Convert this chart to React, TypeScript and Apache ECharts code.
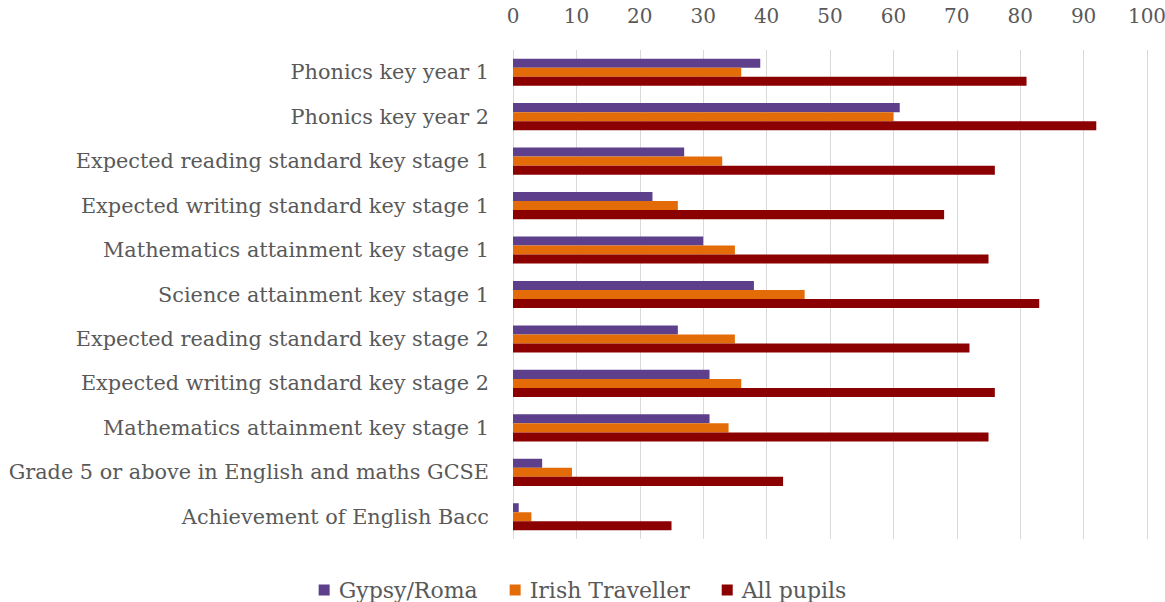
import React, { useEffect, useRef } from "react";
import * as echarts from "echarts";

const categories = [
  "Phonics key year 1",
  "Phonics key year 2",
  "Expected reading standard key stage 1",
  "Expected writing standard key stage 1",
  "Mathematics attainment key stage 1",
  "Science attainment key stage 1",
  "Expected reading standard key stage 2",
  "Expected writing standard key stage 2",
  "Mathematics attainment key stage 1",
  "Grade 5 or above in English and maths GCSE",
  "Achievement of English Bacc",
];

const gypsyRoma = [39, 61, 27, 22, 30, 38, 26, 31, 31, 4.6, 0.9];
const irishTraveller = [36, 60, 33, 26, 35, 46, 35, 36, 34, 9.3, 2.9];
const allPupils = [81, 92, 76, 68, 75, 83, 72, 76, 75, 42.6, 25];

const seriesNames = ["Gypsy/Roma", "Irish Traveller", "All pupils"];
const colors = ["#5d3f8c", "#e36c09", "#8b0000"];

const FONT = "DejaVu Serif";

export default function App() {
  const ref = useRef<HTMLDivElement>(null);
  useEffect(() => {
    if (!ref.current) return;
    const chart = echarts.init(ref.current, null, { renderer: "svg" });
    const data = [gypsyRoma, irishTraveller, allPupils];
    chart.setOption({
      animation: false,
      textStyle: { fontFamily: FONT },
      grid: { left: 513, right: 18, top: 50, bottom: 63, outerBoundsMode: "none" },
      legend: {
        top: 578,
        left: "center",
        padding: 0,
        itemWidth: 11,
        itemHeight: 11,
        itemGap: 32,
        icon: "rect",
        textStyle: {
          fontFamily: FONT,
          fontSize: 22,
          color: "#595959",
          lineHeight: 24,
          padding: [0, 0, 0, 4],
        },
        data: seriesNames,
      },
      xAxis: {
        type: "value",
        position: "top",
        min: 0,
        max: 100,
        interval: 10,
        axisLine: { show: false },
        axisTick: { show: false },
        axisLabel: { fontFamily: FONT, fontSize: 20, color: "#595959", margin: 24 },
        splitLine: { show: true, lineStyle: { color: "#d9d9d9", width: 1 } },
      },
      yAxis: {
        type: "category",
        inverse: true,
        data: categories,
        axisLine: { show: false },
        axisTick: { show: false },
        axisLabel: { fontFamily: FONT, fontSize: 20.8, color: "#595959", margin: 24 },
      },
      series: seriesNames.map((name, i) => ({
        name,
        type: "bar",
        data: data[i],
        barGap: "0%",
        barCategoryGap: "39%",
        itemStyle: { color: colors[i] },
      })),
    });
    return () => chart.dispose();
  }, []);
  return (
    <div
      ref={ref}
      style={{ position: "absolute", left: 0, top: 0, width: 1165, height: 602 }}
    />
  );
}
